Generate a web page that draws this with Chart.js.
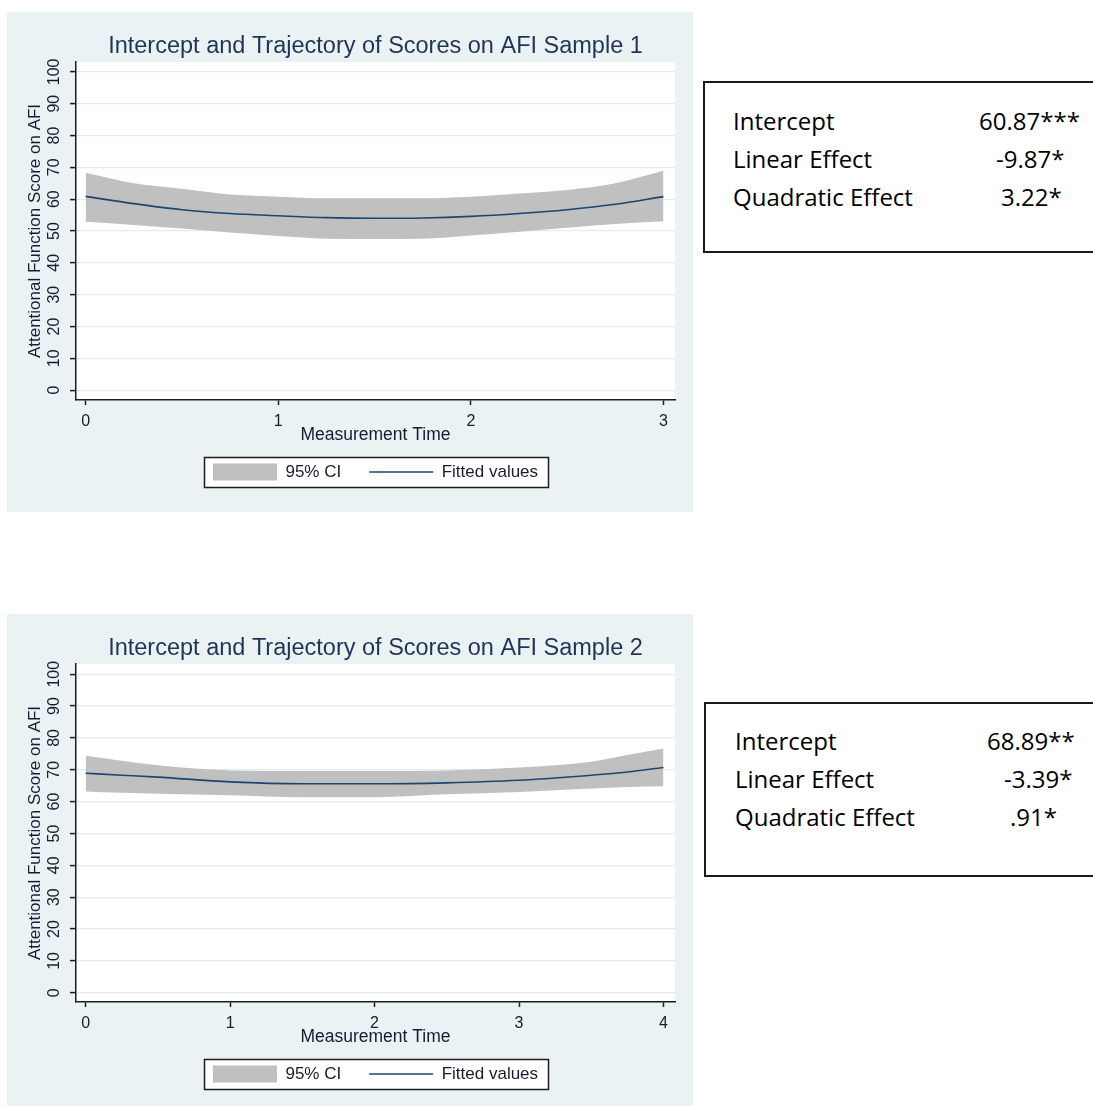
<!DOCTYPE html>
<html>
<head>
<meta charset="utf-8">
<title>Intercept and Trajectory of Scores on AFI</title>
<script src="https://cdn.jsdelivr.net/npm/chart.js@4/dist/chart.umd.min.js"></script>
<style>
  html, body { margin: 0; padding: 0; background: #ffffff; }
  body { position: relative; width: 1093px; height: 1106px; overflow: hidden; }
  canvas.panel { position: absolute; left: 7px; }
  #c1 { top: 12px; }
  #c2 { top: 614px; }
  .coef { position: absolute; box-sizing: border-box; border: 2px solid #1a1a1a; background: #ffffff;
          font-family: "Open Sans", "Noto Sans", sans-serif; font-size: 24px; color: #000000; }
  .coef span { position: absolute; white-space: nowrap; line-height: 24px; }
</style>
</head>
<body>
<canvas id="c1" class="panel" width="686" height="500"></canvas>
<canvas id="c2" class="panel" width="686" height="492"></canvas>
<div id="t1" class="coef" style="left:703px; top:81px; width:400px; height:172px;"></div>
<div id="t2" class="coef" style="left:704px; top:702px; width:400px; height:175px;"></div>

<script>
// ---- Sample 1: fitted quadratic trajectory with 95% confidence band ----
const sample1Time  = [0, 0.25, 0.5, 0.75, 1, 1.25, 1.5, 1.75, 2, 2.25, 2.5, 2.75, 3];
const sample1Fit   = [60.87, 58.6, 56.7, 55.5, 54.8, 54.2, 54.0, 54.1, 54.6, 55.5, 56.7, 58.4, 60.8];
const sample1Upper = [68.3, 65.0, 63.3, 61.5, 60.8, 60.3, 60.3, 60.3, 60.8, 61.8, 62.9, 65.0, 68.9];
const sample1Lower = [52.9, 51.9, 50.8, 49.5, 48.4, 47.6, 47.5, 47.6, 48.6, 49.8, 51.0, 52.2, 53.1];
const sample1Ticks = [0, 1, 2, 3];

// ---- Sample 2 ----
const sample2Time  = [0, 0.25, 0.5, 1, 1.5, 2, 2.5, 3, 3.5, 3.75, 4];
const sample2Fit   = [68.89, 68.3, 67.7, 66.2, 65.6, 65.6, 65.9, 66.7, 68.3, 69.3, 70.7];
const sample2Upper = [74.4, 72.8, 71.4, 69.8, 69.6, 69.6, 69.8, 70.7, 72.5, 74.6, 76.7];
const sample2Lower = [63.2, 62.8, 62.5, 62.0, 61.4, 61.4, 62.3, 63.0, 64.1, 64.6, 64.8];
const sample2Ticks = [0, 1, 2, 3, 4];

const scoreTicks = [0, 10, 20, 30, 40, 50, 60, 70, 80, 90, 100];

// ---- Growth model coefficients shown beside each panel ----
const coefNames   = ['Intercept', 'Linear Effect', 'Quadratic Effect'];
const coefSample1 = ['60.87***', '-9.87*', '3.22*'];
const coefSample2 = ['68.89**', '-3.39*', '.91*'];

const FONT = '"Liberation Sans", Arial, sans-serif';
const PANEL_BG = '#eaf2f3';
const GRID = '#e2ebed';
const AXIS = '#1c1c1c';
const TEXT = '#1a1a30';
const TITLE = '#1f3458';
const BAND = '#c0c0c0';
const LINE = '#1a476f';

Chart.defaults.font.family = FONT;

function points(xs, ys) { return xs.map((x, i) => ({ x: x, y: ys[i] })); }

// Panel background, white plot region and the framed legend box
const stataFrame = {
  id: 'stataFrame',
  beforeDraw(chart) {
    const { ctx, chartArea: a, width, height } = chart;
    ctx.save();
    ctx.fillStyle = PANEL_BG;
    ctx.fillRect(0, 0, width, height);
    ctx.fillStyle = '#ffffff';
    ctx.fillRect(a.left, a.top, a.right - a.left, a.bottom - a.top);
    const boxes = chart.legend && chart.legend.legendHitBoxes;
    if (boxes && boxes.length) {
      const first = boxes[0], last = boxes[boxes.length - 1];
      const cy = first.top + first.height / 2;
      const l = Math.round(first.left - 9), r = Math.round(last.left + last.width + 10);
      const t = Math.round(cy - 15), b = Math.round(cy + 15);
      ctx.fillStyle = '#ffffff';
      ctx.fillRect(l, t, r - l, b - t);
      ctx.strokeStyle = AXIS;
      ctx.lineWidth = 1.5;
      ctx.strokeRect(l + 0.5, t + 0.5, r - l, b - t);
    }
    ctx.restore();
  }
};

function makeChart(id, cfg) {
  return new Chart(document.getElementById(id), {
    type: 'line',
    data: {
      datasets: [
        { label: '95% CI', data: points(cfg.time, cfg.upper), fill: '+1',
          backgroundColor: BAND, borderColor: 'rgba(0,0,0,0)', borderWidth: 0,
          pointRadius: 0, cubicInterpolationMode: 'monotone' },
        { label: '95% CI lower', data: points(cfg.time, cfg.lower), fill: false,
          borderColor: 'rgba(0,0,0,0)', borderWidth: 0,
          pointRadius: 0, cubicInterpolationMode: 'monotone' },
        { label: 'Fitted values', data: points(cfg.time, cfg.fit), fill: false,
          borderColor: LINE, borderWidth: 1.6,
          pointRadius: 0, cubicInterpolationMode: 'monotone' }
      ]
    },
    options: {
      responsive: false,
      animation: false,
      devicePixelRatio: 1,
      layout: { padding: { left: 0, right: 18, top: 0, bottom: cfg.bottomPad } },
      plugins: {
        filler: { drawTime: 'beforeDatasetsDraw' },
        tooltip: { enabled: false },
        title: {
          display: true, text: cfg.title, fullSize: false, color: TITLE,
          font: { size: 23.5, weight: 'normal', family: FONT },
          padding: { top: 20, bottom: 1.8 }
        },
        legend: {
          display: true, position: 'bottom', fullSize: false, align: 'center',
          labels: {
            usePointStyle: true, pointStyleWidth: 64, boxWidth: 64, boxHeight: 17,
            padding: 28, color: TEXT, font: { size: 17, family: FONT },
            generateLabels: (chart) => {
              const ds = chart.data.datasets;
              return [
                { text: ds[0].label, fillStyle: BAND, strokeStyle: BAND, lineWidth: 0,
                  pointStyle: 'rect', hidden: false, datasetIndex: 0, fontColor: TEXT },
                { text: ds[2].label, fillStyle: LINE, strokeStyle: LINE, lineWidth: 1.5,
                  pointStyle: 'line', hidden: false, datasetIndex: 2, fontColor: TEXT }
              ];
            }
          }
        }
      },
      scales: {
        x: {
          type: 'linear', min: cfg.xMin, max: cfg.xMax,
          afterBuildTicks: (s) => { s.ticks = cfg.xTicks.map(v => ({ value: v })); },
          afterFit: (s) => { s.height = 35.5; },
          grid: { drawOnChartArea: false, drawTicks: true, tickLength: 5, tickColor: AXIS, tickWidth: 1.5 },
          border: { display: true, color: AXIS, width: 1.5 },
          ticks: { color: TEXT, font: { size: 16, family: FONT }, padding: 7, maxRotation: 0, autoSkip: false },
          title: { display: true, text: 'Measurement Time', color: TEXT,
                   font: { size: 17.5, family: FONT }, padding: { top: 0, bottom: -10.5 } }
        },
        y: {
          type: 'linear', min: cfg.yMin, max: cfg.yMax,
          afterBuildTicks: (s) => { s.ticks = scoreTicks.map(v => ({ value: v })); },
          afterFit: (s) => { s.width = 69; },
          grid: { color: GRID, lineWidth: 1.2, drawTicks: true, tickLength: 6, tickColor: AXIS, tickWidth: 1.5 },
          border: { display: true, color: AXIS, width: 1.5 },
          ticks: { color: TEXT, font: { size: 16, family: FONT }, minRotation: 90, maxRotation: 90,
                   crossAlign: 'center', padding: 2, autoSkip: false },
          title: { display: true, text: 'Attentional Function Score on AFI', color: TEXT,
                   font: { size: 17, family: FONT }, padding: { top: 18, bottom: 0 } }
        }
      }
    },
    plugins: [stataFrame]
  });
}

makeChart('c1', {
  title: 'Intercept and Trajectory of Scores on AFI Sample 1',
  time: sample1Time, fit: sample1Fit, upper: sample1Upper, lower: sample1Lower,
  xTicks: sample1Ticks, xMin: -0.05, xMax: 3.06, yMin: -3.1, yMax: 103.1, bottomPad: 21.5
});

makeChart('c2', {
  title: 'Intercept and Trajectory of Scores on AFI Sample 2',
  time: sample2Time, fit: sample2Fit, upper: sample2Upper, lower: sample2Lower,
  xTicks: sample2Ticks, xMin: -0.067, xMax: 4.08, yMin: -2.9, yMax: 103.2, bottomPad: 13.5
});

// ---- Coefficient tables ----
function fillTable(id, values, rowCenters, nameLeft, valueLefts) {
  const box = document.getElementById(id);
  const r = box.getBoundingClientRect();
  coefNames.forEach((name, i) => {
    const n = document.createElement('span');
    n.textContent = name;
    n.style.left = (nameLeft - r.left - 2) + 'px';
    n.style.top = (rowCenters[i] - r.top - 2 - 12.7) + 'px';
    box.appendChild(n);
    const v = document.createElement('span');
    v.textContent = values[i];
    v.style.left = (valueLefts[i] - r.left - 2) + 'px';
    v.style.top = (rowCenters[i] - r.top - 2 - 12.7) + 'px';
    box.appendChild(v);
  });
}
fillTable('t1', coefSample1, [121.7, 159.5, 198], 733, [979, 996, 1001]);
fillTable('t2', coefSample2, [741.7, 779.5, 818], 735, [987, 1004, 1010]);
</script>
</body>
</html>
